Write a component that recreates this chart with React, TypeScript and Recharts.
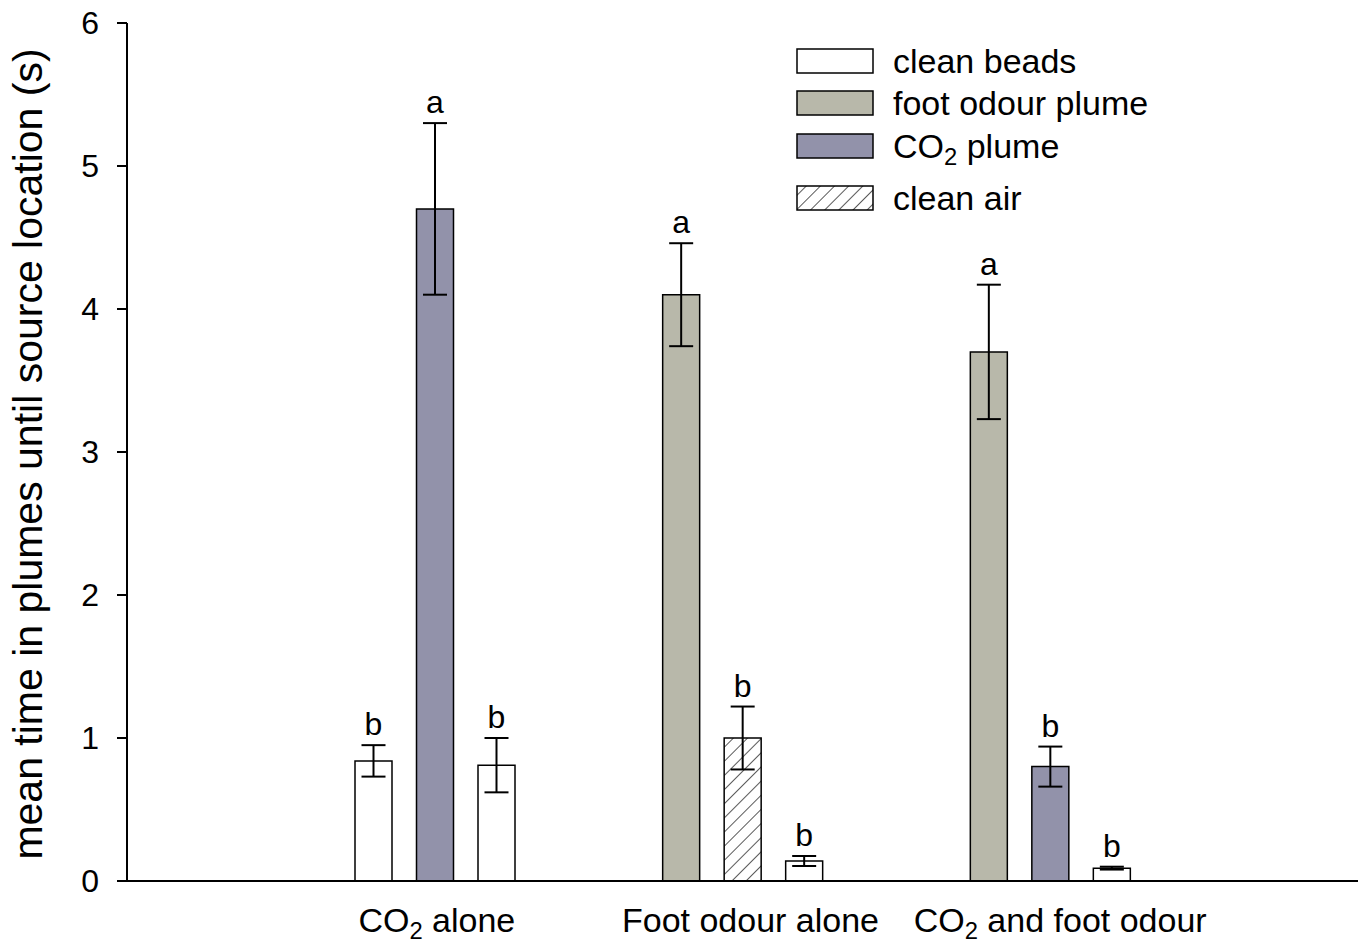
import React from 'react';
import { BarChart, Bar, XAxis, YAxis, ErrorBar, LabelList, Cell } from 'recharts';

// group labels on the x axis
const groups = ['CO2 alone', 'Foot odour alone', 'CO2 and foot odour'];

// treatment shown in each bar slot (left, middle, right) per group
const leftTreat = ['beads', 'foot', 'foot'];
const midTreat = ['co2', 'air', 'co2'];
const rightTreat = ['beads', 'beads', 'beads'];

// mean time (s)
const leftVals = [0.84, 4.1, 3.7];
const midVals = [4.7, 1.0, 0.8];
const rightVals = [0.81, 0.14, 0.09];

// standard errors
const leftErr = [0.11, 0.36, 0.47];
const midErr = [0.6, 0.22, 0.14];
const rightErr = [0.19, 0.035, 0.01];

// significance letters
const leftLetters = ['b', 'a', 'a'];
const midLetters = ['a', 'b', 'b'];
const rightLetters = ['b', 'b', 'b'];

const yTicks = [0, 1, 2, 3, 4, 5, 6];

const legendKeys = ['beads', 'foot', 'co2', 'air'];
const legendLabels = ['clean beads', 'foot odour plume', 'CO2 plume', 'clean air'];

const FONT = '"Liberation Sans", Arial, sans-serif';

const FILLS: Record<string, string> = {
  beads: '#ffffff',
  foot: '#b8b8aa',
  co2: '#9292aa',
  air: 'url(#hatch)',
};

const data = groups.map((g, i) => ({
  group: g,
  left: leftVals[i],
  mid: midVals[i],
  right: rightVals[i],
  leftErr: leftErr[i],
  midErr: midErr[i],
  rightErr: rightErr[i],
  leftLetter: leftLetters[i],
  midLetter: midLetters[i],
  rightLetter: rightLetters[i],
}));

// renders "CO2" with a subscript 2
const withSub = (text: string) => {
  const parts = text.split('CO2');
  const out: React.ReactNode[] = [];
  parts.forEach((p, i) => {
    if (i > 0) {
      out.push(<tspan key={`c${i}`}>CO</tspan>);
      out.push(<tspan key={`s${i}`} baselineShift="-30%" fontSize="0.7em">2</tspan>);
    }
    if (p) out.push(<tspan key={`p${i}`}>{p}</tspan>);
  });
  return out;
};

const tickShift = [2, 8, 10];

const GroupTick = (props: any) => {
  const { x, y, payload, index } = props;
  return (
    <text x={x + (tickShift[index] ?? 0)} y={y + 43} textAnchor="middle" fontSize={34} fontFamily={FONT} fill="#000">
      {withSub(payload.value)}
    </text>
  );
};

const YLabel = () => (
  <text x={42} y={454} transform="rotate(-90, 42, 454)" textAnchor="middle" fontSize={41} fontFamily={FONT} fill="#000">
    mean time in plumes until source location (s)
  </text>
);

const letterContent = (vals: number[], errs: number[]) => (props: any) => {
  const { x, y, width, height, value, index } = props;
  const scale = height / vals[index];
  const top = y - errs[index] * scale;
  return (
    <text x={x + width / 2} y={top - 10} textAnchor="middle" fontSize={32} fontFamily={FONT} fill="#000">
      {value}
    </text>
  );
};

const legendTops = [49, 91, 134, 186];

const LegendBox = () => (
  <svg width={520} height={200} style={{ position: 'absolute', left: 796, top: 40 }}>
    <defs>
      <pattern id="hatchL" patternUnits="userSpaceOnUse" width="10" height="10" patternTransform="rotate(45)">
        <rect width="10" height="10" fill="#fff" />
        <line x1="0" y1="0" x2="0" y2="10" stroke="#000" strokeWidth="1.3" />
      </pattern>
    </defs>
    {legendKeys.map((k, i) => {
      const t = legendTops[i] - 41;
      return (
        <g key={k}>
          <rect x={1} y={t + 1} width={76} height={24}
            fill={k === 'air' ? 'url(#hatchL)' : FILLS[k]} stroke="#000" strokeWidth={1.5} />
          <text x={97} y={t + 25} fontSize={34} fontFamily={FONT} fill="#000">{withSub(legendLabels[i])}</text>
        </g>
      );
    })}
  </svg>
);

export default function App() {
  return (
    <div style={{ position: 'absolute', left: 0, top: 0, width: 1361, height: 946, background: '#fff' }}>
      <BarChart
        width={1361}
        height={946}
        data={data}
        margin={{ top: 23, right: 3, left: 0, bottom: 0 }}
        barSize={37}
        barGap={24.5}
      >
        <defs>
          <pattern id="hatch" patternUnits="userSpaceOnUse" width="10" height="10" patternTransform="rotate(45)">
            <rect width="10" height="10" fill="#fff" />
            <line x1="0" y1="0" x2="0" y2="10" stroke="#000" strokeWidth="1.3" />
          </pattern>
        </defs>
        <XAxis
          dataKey="group"
          type="category"
          padding={{ left: 154, right: 154 }}
          height={65}
          tickLine={false}
          axisLine={{ stroke: '#000', strokeWidth: 2 }}
          tick={<GroupTick />}
          interval={0}
        />
        <YAxis
          type="number"
          domain={[0, 6]}
          ticks={yTicks}
          width={127}
          tickSize={10}
          tickMargin={18}
          axisLine={{ stroke: '#000', strokeWidth: 2 }}
          tickLine={{ stroke: '#000', strokeWidth: 2 }}
          tick={{ fontSize: 32, fontFamily: FONT, fill: '#000' }}
          label={<YLabel />}
        />
        <Bar dataKey="left" stroke="#000" strokeWidth={1.5} isAnimationActive={false}>
          {data.map((_d, i) => (
            <Cell key={`l${i}`} fill={FILLS[leftTreat[i]]} />
          ))}
          <ErrorBar dataKey="leftErr" width={12} stroke="#000" strokeWidth={2} />
          <LabelList dataKey="leftLetter" content={letterContent(leftVals, leftErr)} />
        </Bar>
        <Bar dataKey="mid" stroke="#000" strokeWidth={1.5} isAnimationActive={false}>
          {data.map((_d, i) => (
            <Cell key={`m${i}`} fill={FILLS[midTreat[i]]} />
          ))}
          <ErrorBar dataKey="midErr" width={12} stroke="#000" strokeWidth={2} />
          <LabelList dataKey="midLetter" content={letterContent(midVals, midErr)} />
        </Bar>
        <Bar dataKey="right" stroke="#000" strokeWidth={1.5} isAnimationActive={false}>
          {data.map((_d, i) => (
            <Cell key={`r${i}`} fill={FILLS[rightTreat[i]]} />
          ))}
          <ErrorBar dataKey="rightErr" width={12} stroke="#000" strokeWidth={2} />
          <LabelList dataKey="rightLetter" content={letterContent(rightVals, rightErr)} />
        </Bar>
      </BarChart>
      <LegendBox />
    </div>
  );
}
